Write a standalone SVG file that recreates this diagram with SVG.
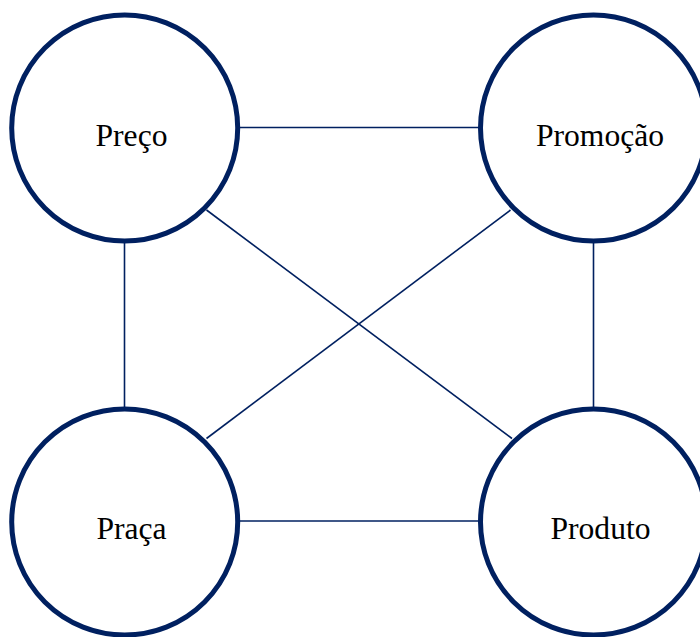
<svg xmlns="http://www.w3.org/2000/svg" width="700" height="637" viewBox="0 0 700 637">
<style>
.node{fill:#ffffff;stroke:#002060;stroke-width:5}
.edge{stroke:#002060;stroke-width:1.6;fill:none}
.lbl{font-family:"Liberation Serif","Times New Roman",serif;font-size:31.6px;fill:#000000;text-anchor:middle}
</style>
<rect width="700" height="637" fill="#ffffff"/>
<g id="connectors">
<line class="edge" x1="238" y1="127.5" x2="480" y2="127.5"/>
<line class="edge" x1="238" y1="521" x2="480" y2="521"/>
<line class="edge" x1="124.5" y1="240" x2="124.5" y2="408"/>
<line class="edge" x1="593.5" y1="240" x2="593.5" y2="408"/>
<line class="edge" x1="206.5" y1="210" x2="512" y2="438.5"/>
<line class="edge" x1="510.5" y1="210" x2="206.5" y2="438.5"/>
</g>
<g id="preco">
<circle class="node" cx="124.7" cy="128" r="113"/>
<text class="lbl" x="131.5" y="145.5">Preço</text>
</g>
<g id="promocao">
<circle class="node" cx="593.5" cy="128" r="113"/>
<text class="lbl" x="600" y="145.5">Promoção</text>
</g>
<g id="praca">
<circle class="node" cx="124.7" cy="522" r="113"/>
<text class="lbl" x="131.5" y="539">Praça</text>
</g>
<g id="produto">
<circle class="node" cx="593.5" cy="522" r="113"/>
<text class="lbl" x="600.5" y="539">Produto</text>
</g>
</svg>
